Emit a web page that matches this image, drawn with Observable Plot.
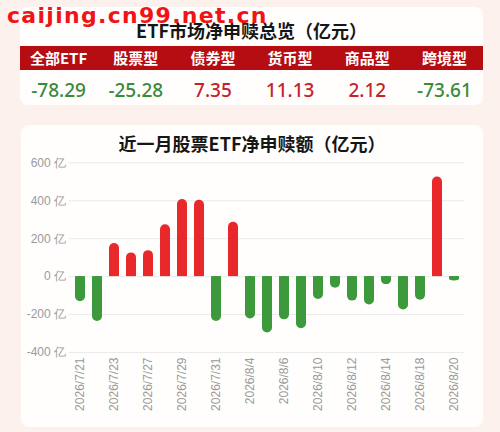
<!DOCTYPE html>
<html>
<head>
<meta charset="utf-8">
<script src="https://cdn.jsdelivr.net/npm/d3@7"></script>
<script src="https://cdn.jsdelivr.net/npm/@observablehq/plot@0.6"></script>
<style>
  html, body { margin: 0; padding: 0; }
  body { width: 500px; height: 432px; background: #fcf1ec; position: relative; overflow: hidden;
         font-family: "Noto Sans CJK SC", "Noto Sans", sans-serif; }
  .card { position: absolute; background: #fffefd; border-radius: 8px; }
  .abs { position: absolute; }
  #wm { position: absolute; left: 7px; top: 5px; font-family: "DejaVu Sans", sans-serif; font-weight: bold;
        font-size: 22px; line-height: 1; color: #f01414; letter-spacing: 1.3px; z-index: 10; white-space: nowrap; }
  .title { position: absolute; text-align: center; font-weight: bold; font-size: 18px; color: #161616; }
  #band { position: absolute; left: 20px; top: 46px; width: 463px; height: 24px; background: #b60d12; display: flex; }
  #band div, #vals div { flex: 1; text-align: center; }
  #band div { color: #fff; font-weight: bold; font-size: 15px; line-height: 24px; }
  #vals { position: absolute; left: 20px; top: 79px; width: 463px; height: 22px; display: flex; }
  #vals div { font-size: 19px; line-height: 22px; font-weight: 500; font-family: "Noto Sans", sans-serif; }
  #chart { position: absolute; left: 0; top: 150px; z-index: 5; }
</style>
</head>
<body>
<div id="wm">caijing.cn99.net.cn</div>
<div class="card" style="left:20px;top:7px;width:463px;height:98px;"></div>
<div class="title" style="left:20px;top:19px;width:463px;line-height:22px;">ETF市场净申赎总览（亿元）</div>
<div id="band"></div>
<div id="vals"></div>
<div class="card" style="left:21px;top:125px;width:462px;height:302px;"></div>
<div class="title" style="left:21px;top:132px;width:462px;line-height:22px;">近一月股票ETF净申赎额（亿元）</div>
<div id="chart"></div>
<script>
// Summary table
const summaryCategories = ["全部ETF", "股票型", "债券型", "货币型", "商品型", "跨境型"];
const summaryValues = [-78.29, -25.28, 7.35, 11.13, 2.12, -73.61];

// Daily stock ETF net subscription (亿元)
const dates = ["2026/7/21","2026/7/22","2026/7/23","2026/7/24","2026/7/27","2026/7/28","2026/7/29","2026/7/30","2026/7/31",
               "2026/8/3","2026/8/4","2026/8/5","2026/8/6","2026/8/7","2026/8/10","2026/8/11","2026/8/12","2026/8/13",
               "2026/8/14","2026/8/17","2026/8/18","2026/8/19","2026/8/20"];
const netValues = [-132, -237, 174, 125, 137, 273, 407, 402, -237,
                   287, -223, -297, -228, -275, -120, -61, -129, -150,
                   -42, -176, -125, 525, -23];
const xTicks = ["2026/7/21","2026/7/23","2026/7/27","2026/7/29","2026/7/31","2026/8/4","2026/8/6",
                "2026/8/10","2026/8/12","2026/8/14","2026/8/18","2026/8/20"];
const yTicks = [-400, -200, 0, 200, 400, 600];

const RED = "#e8282b", GREEN = "#3c9a3c";

const band = document.getElementById("band");
const vals = document.getElementById("vals");
summaryCategories.forEach((c, i) => {
  const h = document.createElement("div"); h.textContent = c; band.appendChild(h);
  const v = document.createElement("div");
  const val = summaryValues[i];
  v.textContent = val.toFixed(2);
  v.style.color = val < 0 ? "#3a8a3c" : "#c5222b";
  vals.appendChild(v);
});

const data = dates.map((d, i) => ({date: d, value: netValues[i]}));

const plot = Plot.plot({
  width: 500,
  height: 270,
  marginTop: 12.3,
  marginBottom: 68,
  marginLeft: 68.5,
  marginRight: 35.5,
  style: {background: "transparent", fontFamily: "Liberation Sans, Arial, sans-serif"},
  x: {domain: dates, paddingInner: 0.42, paddingOuter: 0.2, label: null, axis: null},
  y: {domain: [-400, 600], label: null, axis: null},
  marks: [
    Plot.gridY(yTicks, {stroke: "#ebebeb", strokeOpacity: 1}),
    Plot.axisY(yTicks, {tickSize: 0, tickPadding: 3, fill: "#9a9a9a", fontSize: 12,
      tickFormat: d => `${d} 亿`, label: null}),
    Plot.axisX(xTicks, {tickSize: 0, tickPadding: 5, tickRotate: -90, fill: "#9a9a9a", fontSize: 12, label: null}),
    Plot.barY(data, {filter: d => d.value >= 0, x: "date", y: "value", fill: RED, rx: 5}),
    Plot.barY(data, {filter: d => d.value >= 0, x: "date", y1: 0, y2: d => d.value / 2, fill: RED}),
    Plot.barY(data, {filter: d => d.value < 0, x: "date", y: "value", fill: GREEN, rx: 5}),
    Plot.barY(data, {filter: d => d.value < 0, x: "date", y1: 0, y2: d => d.value / 2, fill: GREEN})
  ]
});
document.getElementById("chart").appendChild(plot);
</script>
</body>
</html>
